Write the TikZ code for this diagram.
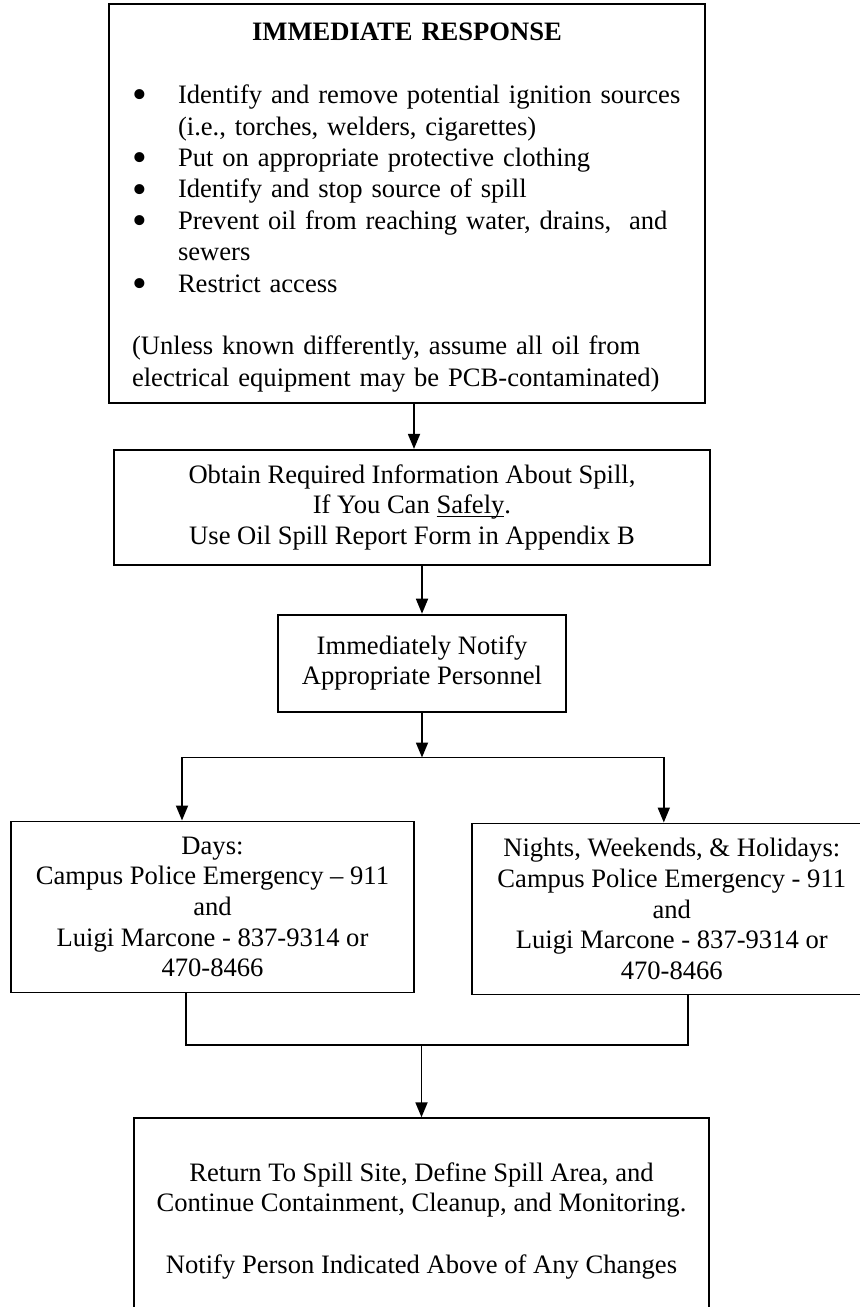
\documentclass[tikz,border=0pt]{standalone}
\usepackage{fontspec}
\setmainfont{Liberation Serif}
\usepackage{tikz}
\usetikzlibrary{
    arrows.meta,
    positioning
}

\newcommand{\bulitem}{\makebox[23pt][l]{\raisebox{-2.6pt}{\fontsize{21pt}{21pt}\selectfont\textbullet}}}
\newcommand{\bulcont}{\hspace*{23pt}}

\begin{document}
\begin{tikzpicture}[
    x=0.5pt,
    y=-0.5pt,
    font=\fontsize{13.3pt}{15.3pt}\selectfont,
    box/.style={
        draw,
        line width=0.9pt,
        align=center,
        inner sep=0pt
    },
    arrow/.style={-{Triangle[length=7.5pt,width=6pt]},line width=0.9pt},
    link/.style={line width=0.9pt}
]

\useasboundingbox (0,0) rectangle (860,1307);

\node[box, align=left, text width=275pt, minimum width=298pt, minimum height=199.5pt,
    font=\fontsize{13.3pt}{15.7pt}\selectfont] (resp) at (407,203.5)
{\rule{0pt}{13pt}\makebox[275pt]{\bfseries IMMEDIATE RESPONSE}\\[15.7pt]
\bulitem Identify and remove potential ignition sources\\
\bulcont (i.e., torches, welders, cigarettes)\\
\bulitem Put on appropriate protective clothing\\
\bulitem Identify and stop source of spill\\
\bulitem Prevent oil from reaching water, drains,~ and\\
\bulcont sewers\\
\bulitem Restrict access\\[15.7pt]
(Unless known differently, assume all oil from\\
electrical equipment may be PCB-contaminated)};

\node[box, minimum width=298pt, minimum height=57.5pt, below=22.5pt of resp, xshift=2.5pt] (info)
{Obtain Required Information About Spill,\\If You Can \underline{\smash{Safely}}.\\Use Oil Spill Report Form in Appendix B};

\node[box, minimum width=144pt, minimum height=48.5pt, below=24pt of info, xshift=5pt] (notify)
{Immediately Notify\\Appropriate Personnel};

\node[box, minimum width=201.5pt, minimum height=85.5pt, below=54pt of notify, xshift=-104.75pt] (days)
{Days:\\Campus Police Emergency -- 911\\and\\Luigi Marcone - 837-9314 or\\470-8466};

\node[box, minimum width=200pt, minimum height=85.5pt, right=28pt of days, yshift=-1pt] (nights)
{Nights, Weekends, \& Holidays:\\Campus Police Emergency - 911\\and\\Luigi Marcone - 837-9314 or\\470-8466};

\node[box, minimum width=287.5pt, minimum height=102.5pt, below=62pt of days, xshift=104.5pt] (site)
{Return To Spill Site, Define Spill Area, and\\Continue Containment, Cleanup, and Monitoring.\\[15.3pt]Notify Person Indicated Above of Any Changes};

\coordinate[below=22.5pt of notify] (split);
\coordinate[above=36pt of site] (merge);

\draw[arrow] ([xshift=3.5pt]resp.south) -- ([xshift=1pt]info.north);
\draw[arrow] ([xshift=5pt]info.south) -- (notify.north);
\draw[arrow] (notify.south) -- (split);
\draw[arrow] (split) -| ([xshift=-15.25pt]days.north);
\draw[arrow] (split) -| ([xshift=-4pt]nights.north);
\draw[link] ([xshift=-13.25pt]days.south) |- (merge);
\draw[link] ([xshift=8pt]nights.south) |- (merge);
\draw[arrow] (merge) -- (site.north);

\end{tikzpicture}
\end{document}
